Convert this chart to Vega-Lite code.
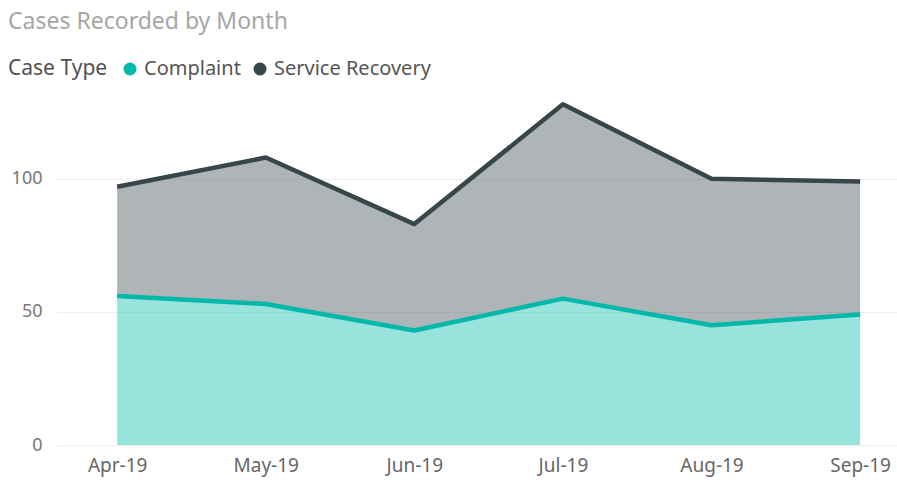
{
  "$schema": "https://vega.github.io/schema/vega-lite/v6.json",
  "autosize": "none",
  "width": 840,
  "height": 346,
  "padding": {"left": 57, "top": 99, "right": 0, "bottom": 39},
  "background": "white",
  "config": {"view": {"stroke": null}, "font": "Noto Sans"},
  "title": {"text": "Cases Recorded by Month", "anchor": "start", "frame": "group", "dx": -49, "offset": 25, "fontSize": 23, "fontWeight": "normal", "color": "#a6a6a6"},
  "data": {"values": [
    {"month": "Apr-19", "type": "Complaint", "cases": 56},
    {"month": "May-19", "type": "Complaint", "cases": 53},
    {"month": "Jun-19", "type": "Complaint", "cases": 43},
    {"month": "Jul-19", "type": "Complaint", "cases": 55},
    {"month": "Aug-19", "type": "Complaint", "cases": 45},
    {"month": "Sep-19", "type": "Complaint", "cases": 49},
    {"month": "Apr-19", "type": "Service Recovery", "cases": 41},
    {"month": "May-19", "type": "Service Recovery", "cases": 55},
    {"month": "Jun-19", "type": "Service Recovery", "cases": 40},
    {"month": "Jul-19", "type": "Service Recovery", "cases": 73},
    {"month": "Aug-19", "type": "Service Recovery", "cases": 55},
    {"month": "Sep-19", "type": "Service Recovery", "cases": 50}
  ]},
  "encoding": {
    "x": {"field": "month", "type": "ordinal", "sort": null, "scale": {"type": "point", "padding": 0.3265, "align": 0.62},
      "axis": {"title": null, "labelAngle": 0, "domain": false, "ticks": false, "labelFontSize": 19, "labelColor": "#666666", "labelPadding": 11}},
    "y": {"field": "cases", "type": "quantitative", "stack": "zero", "scale": {"domain": [0, 130]},
      "axis": {"title": null, "values": [0, 50, 100], "domain": false, "ticks": false, "gridColor": "#eeeeee", "labelFontSize": 18, "labelColor": "#777777", "labelPadding": 15}},
    "color": {"field": "type", "type": "nominal", "scale": {"domain": ["Complaint", "Service Recovery"], "range": ["#01B8AA", "#374649"]},
      "legend": {"title": "Case Type", "orient": "none", "legendX": -49, "legendY": -40, "direction": "horizontal", "titleOrient": "left", "titlePadding": 12, "titleFontSize": 21, "titleFontWeight": "normal", "titleColor": "#505050", "labelFontSize": 20, "labelColor": "#555555", "symbolType": "circle", "symbolSize": 169, "symbolOpacity": 1, "symbolStrokeWidth": 0, "columnPadding": 9, "labelOffset": 4}},
    "order": {"field": "type", "sort": "ascending"}
  },
  "layer": [
    {"mark": {"type": "area", "opacity": 0.4}},
    {"mark": {"type": "line", "strokeWidth": 4.5, "strokeJoin": "round"}}
  ]
}
